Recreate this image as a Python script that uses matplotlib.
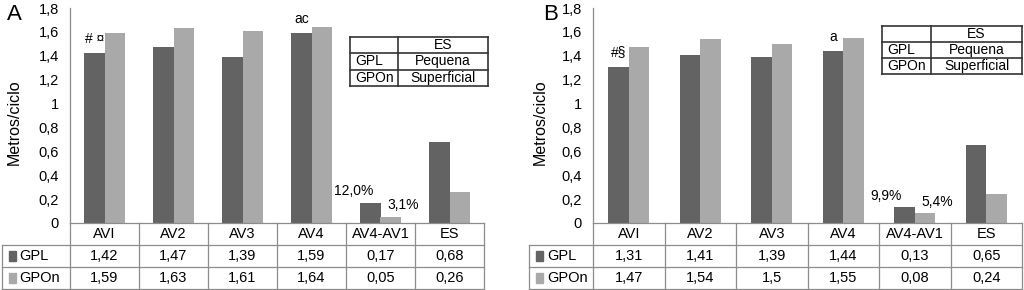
import numpy as np
import matplotlib.pyplot as plt
import matplotlib.transforms as mtransforms
from matplotlib.lines import Line2D
from matplotlib.patches import Rectangle

plt.rcParams['font.family'] = ['Liberation Sans', 'DejaVu Sans']

categories = ["AVI", "AV2", "AV3", "AV4", "AV4-AV1", "ES"]
series_names = ["GPL", "GPOn"]
gpl_a = [1.42, 1.47, 1.39, 1.59, 0.17, 0.68]
gpon_a = [1.59, 1.63, 1.61, 1.64, 0.05, 0.26]
gpl_b = [1.31, 1.41, 1.39, 1.44, 0.13, 0.65]
gpon_b = [1.47, 1.54, 1.5, 1.55, 0.08, 0.24]
yticks = [0, 0.2, 0.4, 0.6, 0.8, 1.0, 1.2, 1.4, 1.6, 1.8]
marks_a = [(0, "# ¤"), (3, "ac")]
marks_b = [(0, "#§"), (3, "a")]
pct_a = ["12,0%", "3,1%"]
pct_b = ["9,9%", "5,4%"]
es_rows = [("", "ES"), ("GPL", "Pequena"), ("GPOn", "Superficial")]

DARK = "#636363"
LIGHT = "#a9a9a9"
GRID = "#8c8c8c"
W, H = 1024, 290


def fmt(v):
    return f"{v:g}".replace(".", ",")


def px_rect(x0, y0, x1, y1):
    return [x0 / W, 1 - y1 / H, (x1 - x0) / W, (y1 - y0) / H]


def panel(fig, rect, gpl, gpon, marks, pct, left_px, letter, letter_xy, ylab_x, es_box):
    ax = fig.add_axes(px_rect(*rect))
    x = np.arange(len(categories))
    bw = 0.29
    ax.bar(x - bw / 2, gpl, bw, color=DARK)
    ax.bar(x + bw / 2, gpon, bw, color=LIGHT)
    ax.set_xlim(-0.5, len(categories) - 0.5)
    ax.set_ylim(0, 1.8)
    ax.set_yticks(yticks)
    ax.set_yticklabels([fmt(t) for t in yticks], fontsize=10.5)
    ax.tick_params(axis="y", length=0, pad=8)
    ax.set_xticks([])
    for s in ["top", "right", "bottom"]:
        ax.spines[s].set_visible(False)
    ax.spines["left"].set_color(GRID)
    ax.spines["left"].set_linewidth(0.9)

    # significance marks and percentages
    for i, t in marks:
        ax.text(i - bw / 2, gpl[i] + 0.06, t, ha="center", va="bottom", fontsize=10)
    i = categories.index("AV4-AV1")
    ax.text(i - bw / 2 - 0.25, gpl[i] + 0.04, pct[0], ha="center", va="bottom", fontsize=10)
    ax.text(i + 0.1, gpon[i] + 0.04, pct[1], ha="left", va="bottom", fontsize=10)

    # data table below the chart
    ax_h = rect[3] - rect[1]
    h = 22 / ax_h
    trans = mtransforms.blended_transform_factory(ax.transData, ax.transAxes)
    cat_w = (rect[2] - rect[0]) / len(categories)
    xl = -0.5 - (rect[0] - left_px) / cat_w
    n = len(categories)
    kw = dict(transform=trans, clip_on=False, color=GRID, lw=0.9)
    ax.add_line(Line2D([-0.5, n - 0.5], [0, 0], **kw))
    for k in (1, 2, 3):
        ax.add_line(Line2D([xl, n - 0.5], [-k * h, -k * h], **kw))
    for k in range(n + 1):
        ax.add_line(Line2D([k - 0.5, k - 0.5], [0, -3 * h], **kw))
    ax.add_line(Line2D([xl, xl], [-h, -3 * h], **kw))
    for k, c in enumerate(categories):
        ax.text(k, -0.5 * h, c, transform=trans, ha="center", va="center", fontsize=10.5)
        ax.text(k, -1.5 * h, fmt(gpl[k]), transform=trans, ha="center", va="center", fontsize=10.5)
        ax.text(k, -2.5 * h, fmt(gpon[k]), transform=trans, ha="center", va="center", fontsize=10.5)
    for r, (name, col) in enumerate(zip(series_names, [DARK, LIGHT])):
        yc = -(1.5 + r) * h
        ax.add_patch(Rectangle((xl + 0.1, yc - 0.022), 0.1, 0.044, transform=trans,
                               clip_on=False, color=col))
        ax.text(xl + 0.25, yc, name, transform=trans, ha="left", va="center", fontsize=10.5)

    ax.set_ylabel("Metros/ciclo", fontsize=11.5)
    ax.yaxis.set_label_coords((ylab_x - rect[0]) / (rect[2] - rect[0]), 0.47)
    fig.text(letter_xy[0] / W, 1 - letter_xy[1] / H, letter, fontsize=16, ha="left", va="center")

    # ES inset table
    x0, y0, xd, x1, y1 = es_box
    tab = fig.add_axes(px_rect(x0, y0, x1, y1))
    tab.set_xlim(0, 1)
    tab.set_ylim(3, 0)
    tab.axis("off")
    xdiv = (xd - x0) / (x1 - x0)
    lk = dict(color="#333333", lw=1.2, clip_on=False)
    for yy in (0, 1, 2, 3):
        tab.plot([0, 1], [yy, yy], **lk)
    for xx in (0, xdiv, 1):
        tab.plot([xx, xx], [0, 3], **lk)
    for r, (a, b) in enumerate(es_rows):
        tab.text(0.04, r + 0.5, a, ha="left", va="center", fontsize=10)
        tab.text((xdiv + 1) / 2, r + 0.5, b, ha="center", va="center", fontsize=10)
    return ax


fig = plt.figure(figsize=(10.24, 2.9), dpi=100)
panel(fig, (70, 8, 484, 223), gpl_a, gpon_a, marks_a, pct_a, 2, "A", (7, 15), 22,
      (350, 37, 398, 488, 86))
panel(fig, (593, 8, 1022, 223), gpl_b, gpon_b, marks_b, pct_b, 529, "B", (543, 15), 548,
      (882, 26, 931, 1022, 74))
fig.savefig("out.png", dpi=100)
